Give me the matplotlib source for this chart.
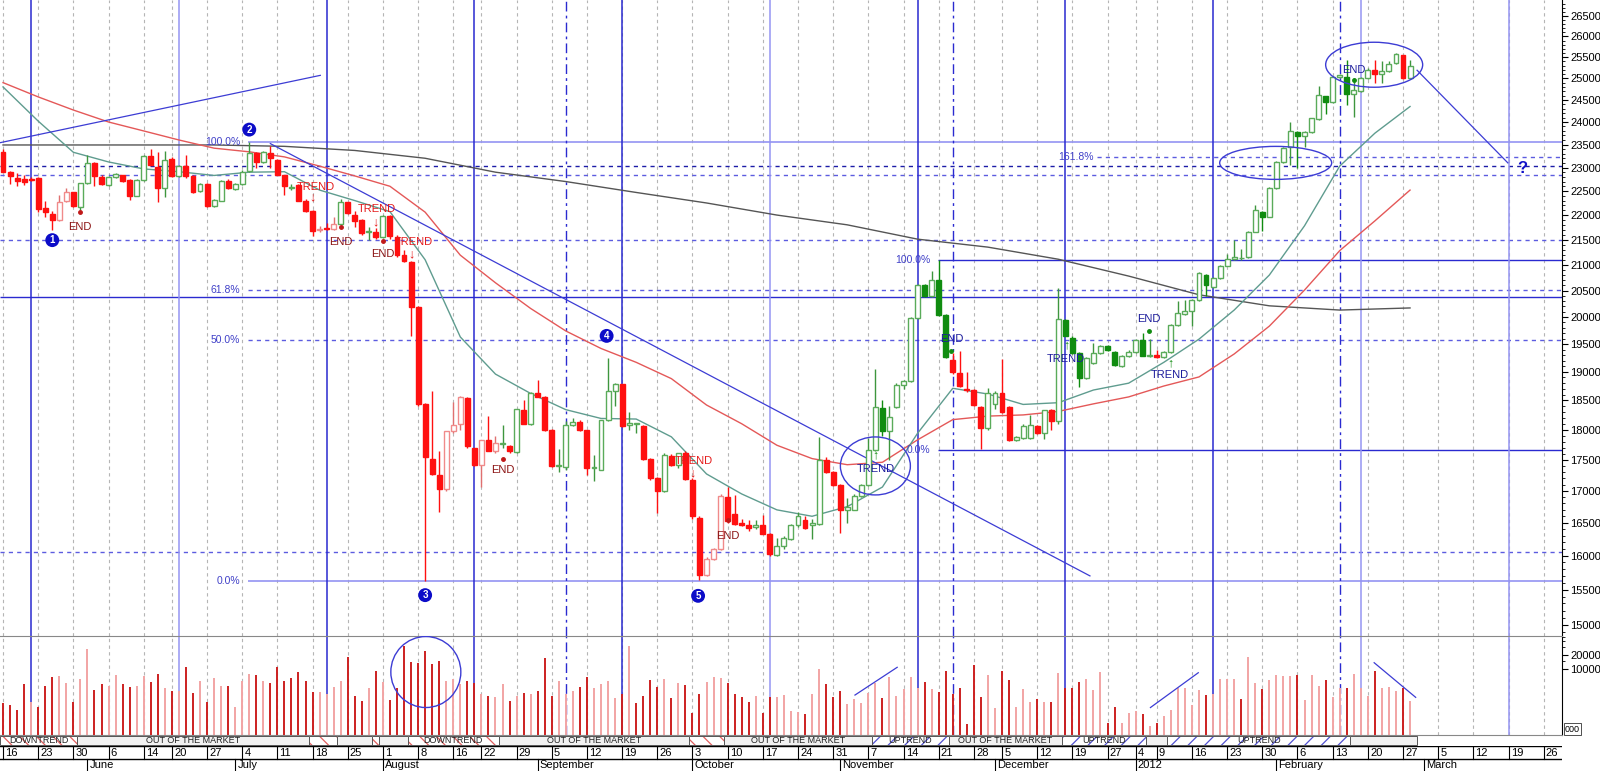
import numpy as np
import pandas as pd
import matplotlib
matplotlib.use("Agg")
import matplotlib.pyplot as plt
from matplotlib.patches import Rectangle, Ellipse
from matplotlib.ticker import FixedLocator, FixedFormatter, NullFormatter

plt.rcParams['font.family'] = ['Liberation Sans', 'DejaVu Sans']
plt.rcParams['hatch.linewidth'] = 0.9

# trading calendar (exchange closed on these days)
holidays = pd.to_datetime(['2011-06-13', '2011-08-15', '2011-12-01',
                           '2011-12-26', '2012-01-02', '2012-01-03'])
days = pd.bdate_range('2011-05-16', '2012-03-30')
days = days[~days.isin(holidays)]

# daily candles, 16 May 2011 .. 28 Feb 2012
opens = [23330, 22900, 22780, 22750, 22760, 22780, 22150, 22030, 21890, 22300,
         22470, 22160, 22660, 23090, 22790, 22630, 22790, 22830, 22740, 22400,
         22730, 23240, 23020, 22560, 23190, 22810, 23040, 22810, 22500, 22640,
         22180, 22300, 22720, 22540, 22640, 22920, 23320, 23110, 23320, 23170,
         22830, 22570, 22630, 22300, 22080, 21700, 21730, 21720, 21820, 22260,
         22010, 21890, 21660, 21650, 21560, 21980, 21560, 21190, 21050, 20180,
         18430, 17510, 17250, 17030, 17970, 18090, 18540, 17690, 17410, 17820,
         17640, 17760, 17720, 17630, 18340, 18090, 18620, 18560, 18000, 17400,
         17390, 18080, 18130, 17990, 17370, 17340, 18160, 18660, 18780, 18080,
         18100, 18060, 17520, 17200, 16990, 17560, 17410, 17620, 17180, 16580,
         15720, 15950, 16100, 16900, 16630, 16500, 16460, 16430, 16470, 16330,
         16010, 16140, 16250, 16460, 16540, 16470, 16480, 17500, 17300, 17090,
         16700, 16700, 16920, 17090, 17660, 18370, 17970, 18380, 18770, 18830,
         19980, 20610, 20390, 20710, 20040, 19220, 18980, 18700, 18680, 18390,
         18020, 18440, 18620, 18390, 17830, 17860, 17860, 18060, 17940, 18330,
         18140, 19950, 19620, 19340, 18890, 19160, 19340, 19470, 19360, 19100,
         19290, 19360, 19580, 19280, 19300, 19270, 19360, 19850, 20060, 20110,
         20320, 20800, 20570, 20740, 20980, 21110, 21130, 21150, 21660, 22070,
         21960, 22560, 23120, 23440, 23770, 23690, 23770, 24060, 24580, 24450,
         25020, 25040, 24640, 24700, 25000, 25190, 25100, 25180, 25350, 25550,
         25000]
highs = [23400, 22930, 22880, 22830, 22790, 22800, 22290, 22080, 22420, 22560,
         22480, 22680, 23280, 23120, 22830, 22810, 22880, 22850, 22760, 22760,
         23270, 23400, 23330, 23350, 23220, 23060, 23260, 22830, 22670, 22660,
         22330, 22730, 22760, 22660, 22950, 23550, 23340, 23360, 23470, 23190,
         22850, 22640, 22650, 22330, 22100, 21780, 21830, 21950, 22340, 22280,
         22080, 21920, 21750, 21740, 22000, 22000, 21600, 21290, 21080, 20200,
         18450, 18660, 17650, 17980, 18470, 18570, 18560, 17700, 17830, 18240,
         17900, 18080, 17750, 18360, 18500, 18650, 18860, 18580, 18010, 17680,
         18150, 18200, 18160, 18000, 17580, 18170, 19240, 18800, 18790, 18300,
         18120, 18080, 17530, 17220, 17620, 17600, 17620, 17640, 17200, 16600,
         15980, 16120, 16950, 17060, 16930, 16560, 16540, 16540, 16620, 16340,
         16260, 16300, 16480, 16660, 16600, 16560, 17880, 17550, 17320, 17110,
         16880, 16950, 17110, 17860, 19050, 18500, 18400, 18800, 18850, 20000,
         20620, 20620, 20870, 21100, 20060, 19330, 19380, 19000, 18700, 18410,
         18710, 18660, 19230, 18410, 17900, 18100, 18250, 18080, 18340, 18350,
         20550, 19960, 19640, 19360, 19260, 19520, 19490, 19490, 19380, 19310,
         19390, 19600, 19700, 19600, 19400, 19380, 19870, 20300, 20320, 20340,
         20860, 20820, 20760, 21000, 21210, 21500, 21320, 21680, 22200, 22090,
         22580, 23140, 23440, 23990, 23800, 23790, 24100, 24830, 24600, 25050,
         25100, 25440, 25000, 25020, 25240, 25430, 25410, 25420, 25600, 25560,
         25440]
lows = [22900, 22650, 22600, 22620, 22720, 22060, 21950, 21700, 21880, 22280,
        22170, 22100, 22640, 22600, 22620, 22610, 22770, 22700, 22310, 22390,
        22720, 23050, 22270, 22380, 22800, 22790, 22780, 22450, 22480, 22170,
        22170, 22290, 22540, 22530, 22630, 22900, 23000, 23100, 23000, 22830,
        22410, 22520, 22290, 22060, 21580, 21650, 21700, 21700, 21800, 22030,
        21760, 21600, 21500, 21520, 21540, 21520, 21150, 21060, 19650, 18400,
        15620, 17250, 16670, 17000, 17950, 18000, 17700, 17400, 17060, 17640,
        17620, 17700, 17620, 17620, 18090, 18080, 18550, 17980, 17390, 17300,
        17330, 18070, 17980, 17250, 17150, 17330, 18150, 18400, 18050, 18000,
        17950, 17500, 17180, 16650, 16980, 17400, 17370, 17180, 16560, 15640,
        15700, 15930, 16090, 16500, 16460, 16450, 16380, 16400, 16320, 15990,
        15990, 16100, 16240, 16440, 16400, 16250, 16470, 17280, 17080, 16340,
        16500, 16690, 16900, 17080, 17650, 17900, 17500, 18370, 18700, 18820,
        19970, 20370, 20380, 20020, 19240, 18970, 18730, 18650, 18400, 17680,
        18000, 18350, 18280, 17810, 17810, 17850, 17850, 17920, 17840, 18000,
        18100, 19640, 19320, 18730, 18870, 19140, 19320, 19370, 19100, 19080,
        19270, 19340, 19280, 19260, 19250, 19250, 19340, 19840, 20040, 19830,
        20310, 20400, 20550, 20720, 20970, 21100, 21100, 21140, 21650, 21670,
        21950, 22550, 23100, 23050, 23000, 23450, 23750, 24040, 24180, 24430,
        25000, 24380, 24110, 24680, 24990, 24900, 24880, 25150, 25330, 24980,
        24980]
closes = [22910, 22820, 22710, 22700, 22740, 22130, 22070, 21890, 22280, 22470,
          22190, 22660, 23090, 22810, 22640, 22790, 22860, 22720, 22390, 22730,
          23240, 23060, 22560, 23170, 22810, 23040, 22810, 22490, 22650, 22180,
          22310, 22720, 22560, 22640, 22900, 23320, 23110, 23340, 23200, 22850,
          22600, 22590, 22300, 22080, 21680, 21720, 21720, 21810, 22280, 22050,
          21870, 21640, 21680, 21560, 21980, 21570, 21190, 21080, 20180, 18430,
          17540, 17270, 17030, 17970, 18080, 18560, 17720, 17410, 17820, 17650,
          17770, 17780, 17640, 18350, 18100, 18620, 18560, 18000, 17400, 17420,
          18080, 18130, 17990, 17360, 17380, 18160, 18670, 18780, 18070, 18120,
          18110, 17520, 17200, 16990, 17580, 17410, 17610, 17190, 16600, 15720,
          15950, 16100, 16920, 16520, 16480, 16470, 16420, 16470, 16330, 16020,
          16140, 16260, 16470, 16600, 16420, 16490, 17500, 17300, 17090, 16700,
          16740, 16920, 17090, 17660, 18390, 17970, 18220, 18770, 18830, 19980,
          20610, 20390, 20710, 20040, 19260, 18990, 18750, 18680, 18420, 18020,
          18620, 18620, 18300, 17830, 17870, 18060, 18080, 17940, 18330, 18140,
          19960, 19650, 19340, 18890, 19240, 19340, 19470, 19390, 19120, 19290,
          19360, 19580, 19290, 19300, 19270, 19360, 19850, 20070, 20110, 20320,
          20840, 20610, 20740, 20980, 21110, 21150, 21140, 21660, 22100, 21970,
          22560, 23120, 23420, 23790, 23690, 23770, 24080, 24610, 24450, 25020,
          25070, 24640, 24720, 25000, 25190, 25100, 25170, 25330, 25570, 25000,
          25300]
volumes = [1860, 1710, 1330, 4830, 2000, 1570, 4370, 6930, 7180, 5160,
           2010, 6280, 27300, 3530, 4830, 4370, 7420, 4830, 4170, 4370,
           7300, 5420, 8040, 3960, 3470, 3500, 11380, 3090, 5600, 1950,
           6500, 4370, 4370, 1520, 5690, 7800, 7540, 5690, 5160, 11000,
           5600, 6500, 8880, 5690, 3250, 3250, 3000, 4170, 5600, 18600,
           2630, 2110, 3960, 9190, 5420, 2220, 4000, 32200, 14600, 13450,
           24700, 13000, 15100, 5600, 6100, 4830, 5600, 5000, 2900, 2670,
           2500, 4830, 2050, 2670, 3050, 2900, 3370, 17800, 2670, 5600,
           3000, 3370, 4230, 6730, 4000, 4830, 5600, 2380, 3000, 32200,
           1860, 2700, 5970, 4170, 6280, 2380, 5070, 4600, 1130, 2950,
           5330, 6830, 6500, 5160, 2950, 2580, 2010, 2670, 1130, 2500,
           2500, 2800, 1270, 1210, 1110, 2950, 10000, 4830, 2500, 3470,
           1800, 2260, 1920, 3130, 5070, 2380, 6730, 2630, 3770, 6730,
           4000, 5330, 3770, 3190, 9190, 3000, 3960, 660, 12370, 2580,
           7420, 1450, 9190, 5800, 1520, 3770, 2010, 2300, 1950, 2010,
           8340, 4000, 3960, 5330, 6190, 3590, 8750, 690, 1550, 710,
           1130, 1250, 1090, 600, 690, 990, 1330, 3900, 4020, 1710,
           3590, 2800, 3000, 6100, 6100, 6100, 2300, 18600, 5160, 3720,
           5970, 7540, 7180, 7180, 7540, 2200, 7660, 4370, 5800, 2580,
           4000, 4020, 7900, 4000, 2670, 9190, 3960, 4230, 3410, 3960,
           2110]

# moving averages
ma_fast_idx = list(range(0, 201, 5))
ma_fast = [24800, 24020, 23330, 23120, 22970, 22910, 22830, 22900, 22910, 22520,
           22300, 22070, 21100, 19630, 18960, 18620, 18340, 18190, 18180, 17880,
           17270, 16950, 16700, 16600, 16750, 17060, 17940, 18710, 18610, 18430,
           18460, 18680, 18800, 19170, 19590, 20130, 20800, 21780, 23030, 23750,
           24350]
ma_mid_idx = list(range(0, 201, 5))
ma_mid = [24900, 24570, 24270, 24000, 23800, 23600, 23420, 23340, 23230, 23030,
          22820, 22600, 22060, 21190, 20650, 20160, 19740, 19420, 19170, 18880,
          18420, 18100, 17740, 17520, 17420, 17460, 17830, 18170, 18230, 18250,
          18310, 18440, 18560, 18750, 18910, 19320, 19830, 20510, 21280, 21880,
          22520]
ma_long_idx = list(range(0, 201, 10))
ma_long = [23490, 23490, 23490, 23490, 23460, 23370, 23200, 22900, 22700, 22470,
           22250, 22000, 21800, 21510, 21350, 21110, 20780, 20420, 20210, 20130,
           20170]

# trend state band
band_start = [-0.43, 10.5, 43.5, 47.5, 52.5, 53.5, 57.5, 70.5, 97.5, 102.5,
              123.5, 134.5, 150.5, 162.5, 165.5, 191.5]
band_end = [10.5, 43.5, 47.5, 52.5, 53.5, 57.5, 70.5, 97.5, 102.5, 123.5,
            134.5, 150.5, 162.5, 165.5, 191.5, 201]
band_kind = ['down', 'out', 'down', 'out', 'down', 'out', 'down', 'out', 'down', 'out',
             'up', 'out', 'up', 'out', 'up', 'out']
band_text = ['DOWNTREND', 'OUT OF THE MARKET', '', '', '', '', 'DOWNTREND',
             'OUT OF THE MARKET', '', 'OUT OF THE MARKET', 'UPTREND',
             'OUT OF THE MARKET', 'UPTREND', '', 'UPTREND', '']

# drawn analysis: levels, cycle lines, trend lines, labels
levels = [23560, 23230, 23030, 22830, 21500, 21100, 20520, 20370, 19580, 17660, 16060, 15620]
level_from = [34.8, 155.5, -0.5, -0.5, -0.5, 132.9, 34.8, -0.5, 34.8, 132.9, -0.5, 34.8]
level_style = ['light', 'dash', 'darkdash', 'dash', 'dash', 'solid', 'dash', 'solid',
               'dash', 'solid', 'dash', 'light']
fib_labels = ['100.0%', '61.8%', '50.0%', '0.0%', '100.0%', '0.0%', '161.8%']
fib_price = [23560, 20520, 19580, 15620, 21100, 17660, 23230]
fib_at = [33.7, 33.7, 33.7, 33.7, 131.8, 131.8, 155.0]
cycle_lines = [4, 25, 46, 67, 88, 109, 130, 151, 172, 193, 214]
cycle_light = [25, 109, 193, 214]
dashdot_lines = [80, 135, 190]
trend_lines = [([-0.43, 45.1], [23540, 25070]),
               ([38.0, 154.5], [23520, 15700]),
               ([201.0, 213.9], [25190, 23100])]
vol_lines = [([121.1, 127.1], [2800, 11050]),
             ([163.1, 169.9], [1510, 8450]),
             ([194.9, 200.8], [13870, 2500])]
wave_idx = [7, 35, 60, 85.8, 98.8]
wave_price = [21490, 23830, 15420, 19650, 15410]
wave_text = ['1', '2', '3', '4', '5']
sig_text = ['END', 'TREND', 'END', 'TREND', 'END', 'TREND', 'END', 'TREND', 'END',
            'TREND', 'END', 'TREND', 'END', 'TREND', 'END']
sig_idx = [10.9, 44.4, 48, 53.2, 54, 58.4, 71, 98.2, 103, 124, 134.8, 151, 162.8, 165.8, 192]
sig_price = [21750, 22580, 21450, 22120, 21210, 21450, 17330, 17480, 16300,
             17350, 19590, 19230, 19960, 18950, 25200]
mark_idx = [10.9, 44.0, 48, 53, 54, 58.1, 71, 98, 103, 124, 134.8, 151.1, 162.9, 165.9, 192]
mark_price = [22070, 22360, 21750, 21860, 21480, 21210, 17520, 17280, 16540,
              17580, 19370, 19480, 19740, 19160, 24970]
mark_kind = ['rdot', 'down', 'rdot', 'down', 'rdot', 'down', 'rdot', 'down', 'rdot',
             'up', 'gdot', 'up', 'gdot', 'up', 'gdot']

W, H = 1600, 771
fig = plt.figure(figsize=(W / 100, H / 100), dpi=100)


def box(x0, y0, x1, y1):
    return [x0 / W, 1 - y1 / H, (x1 - x0) / W, (y1 - y0) / H]


ax = fig.add_axes(box(0, 0, 1562, 636))
vax = fig.add_axes(box(0, 636, 1562, 735))
bax = fig.add_axes(box(0, 735, 1562, 746))
dax = fig.add_axes(box(0, 746, 1562, 771))
XL = (-0.43, 221.6)
n = len(closes)
xs = np.arange(n)

ax.set_yscale('log')
ax.set_ylim(14842, 26900)
vax.set_yscale('log')
vax.set_ylim(388, 52000)
for a in (ax, vax, bax, dax):
    a.set_xlim(*XL)

BLUE = '#2a2ad0'
LIGHT = '#9494f2'
DASH = '#5c5ce0'

# weekly grid
pos = pd.Series(np.arange(len(days)), index=days)
week_first = pos.groupby(days.to_period('W')).first()
month_first = pos.groupby(days.to_period('M')).first()
for k in week_first.values:
    for a in (ax, vax):
        a.axvline(k, color='#b5b5b5', lw=0.8, ls=(0, (3, 3)), zorder=0)

# levels
for p, x0, st in zip(levels, level_from, level_style):
    if st == 'light':
        kw = dict(color=LIGHT, lw=1.2, ls='-')
    elif st == 'solid':
        kw = dict(color=BLUE, lw=1.0, ls='-')
    elif st == 'darkdash':
        kw = dict(color='#1c1ca8', lw=1.0, ls=(0, (3, 3)))
    else:
        kw = dict(color=DASH, lw=1.0, ls=(0, (3, 3)))
    ax.hlines(p, x0, XL[1], zorder=1, **kw)
for s, p, x in zip(fib_labels, fib_price, fib_at):
    ax.text(x, p, s, color='#4040c8', fontsize=7.5, ha='right', va='center', zorder=5)

# cycle lines
for k in cycle_lines:
    c = LIGHT if k in cycle_light else BLUE
    for a in (ax, vax):
        a.axvline(k, color=c, lw=1.1, zorder=1)
for k in dashdot_lines:
    for a in (ax, vax):
        a.axvline(k, color=BLUE, lw=1.0, ls=(0, (7, 3, 2, 3)), zorder=1)

# moving averages
ax.plot(ma_long_idx, ma_long, color='#555555', lw=1.0, zorder=2)
ax.plot(ma_mid_idx, ma_mid, color='#e45858', lw=1.0, zorder=2)
ax.plot(ma_fast_idx, ma_fast, color='#5f9c8f', lw=1.0, zorder=2)

# trend lines
for tx, ty in trend_lines:
    ax.plot(tx, ty, color='#3c3cd4', lw=0.9, zorder=2)
for tx, ty in vol_lines:
    vax.plot(tx, ty, color='#3c3cd4', lw=0.9, zorder=3)


def zone_of(i):
    for s, e, kd in zip(band_start, band_end, band_kind):
        if s <= i < e:
            return kd
    return 'out'


# candles
bw = 0.7
for i in range(n):
    o, h, l, c = opens[i], highs[i], lows[i], closes[i]
    z = zone_of(i)
    up = c >= o
    if z == 'down':
        col = '#f08a8a' if up else '#ff1010'
    elif z == 'up':
        col = '#5aab5a' if up else '#108c10'
    else:
        col = '#5aab5a' if up else '#ff1010'
    wick = col if not up else ('#e07070' if z == 'down' else '#3e963e')
    ax.vlines(i, l, h, color=wick, lw=1.0, zorder=3)
    lo, hi = min(o, c), max(o, c)
    if up:
        ax.add_patch(Rectangle((i - bw / 2, lo), bw, hi - lo, fc='white', ec=col,
                               lw=1.0, zorder=4))
    else:
        ax.add_patch(Rectangle((i - bw / 2, lo), bw, hi - lo, fc=col, ec=col,
                               lw=1.0, zorder=4))

# volume
vcols = ['#f2a4a4' if i > 0 and closes[i] >= closes[i - 1] else '#cc2020' for i in range(n)]
vax.vlines(xs, 388, volumes, colors=vcols, lw=1.4, zorder=2)

# wave numbers and signal labels
for i, p, s in zip(wave_idx, wave_price, wave_text):
    ax.text(i, p, s, color='white', fontsize=7, fontweight='bold', ha='center',
            va='center', zorder=7,
            bbox=dict(boxstyle='circle,pad=0.2', fc='#0c0cc8', ec='none'))
ax.text(215.9, 22980, '?', color='#1010c8', fontsize=12, fontweight='bold',
        ha='center', va='center', zorder=7)
for k, (s, i, p) in enumerate(zip(sig_text, sig_idx, sig_price)):
    if k < 9:
        col = '#e41c1c' if s == 'TREND' else '#8c1414'
    else:
        col = '#1c1c9c'
    ax.text(i, p, s, color=col, fontsize=8, ha='center', va='center', zorder=6)
for i, p, kd in zip(mark_idx, mark_price, mark_kind):
    if kd == 'rdot':
        ax.plot(i, p, 'o', ms=2.5, color='#c01818', zorder=6)
    elif kd == 'gdot':
        ax.plot(i, p, 'o', ms=2.5, color='#108c10', zorder=6)
    elif kd == 'down':
        ax.text(i, p, '↓', color='#e41c1c', fontsize=9, fontweight='bold',
                ha='center', va='center', zorder=6)
    else:
        ax.text(i, p, '↑', color='#108c10', fontsize=9, fontweight='bold',
                ha='center', va='center', zorder=6)


# ellipses drawn in pixel size around a data point
def ring(a, i, v, wpx, hpx):
    px, py = a.transData.transform((i, v))
    fx, fy = fig.transFigure.inverted().transform((px, py))
    a.add_patch(Ellipse((fx, fy), wpx / W, hpx / H, transform=fig.transFigure,
                        fill=False, ec='#3c3cd4', lw=1.0, zorder=6))


ring(ax, 124.0, 17400, 70, 58)
ring(ax, 180.9, 23100, 112, 33)
ring(ax, 194.9, 25320, 97, 45)
ring(vax, 60.1, 8750, 70, 71)

# axes styling
for a in (ax, vax):
    for sp in ('left', 'top', 'bottom'):
        a.spines[sp].set_visible(False)
    a.spines['right'].set_color('black')
    a.set_xticks([])
    a.yaxis.tick_right()
    a.tick_params(axis='y', which='major', direction='out', length=4, width=0.8,
                  labelsize=8, pad=2)
    a.tick_params(axis='y', which='minor', direction='out', length=2, width=0.6)
vax.spines['top'].set_visible(True)
vax.spines['top'].set_color('#888888')
vax.spines['bottom'].set_visible(True)
vax.spines['bottom'].set_color('#888888')

pmaj = list(range(15000, 26501, 500))
ax.yaxis.set_major_locator(FixedLocator(pmaj))
ax.yaxis.set_major_formatter(FixedFormatter([str(v) for v in pmaj]))
ax.yaxis.set_minor_locator(FixedLocator([v for v in range(14900, 26900, 100) if v % 500]))
ax.yaxis.set_minor_formatter(NullFormatter())
vax.yaxis.set_major_locator(FixedLocator([10000, 20000]))
vax.yaxis.set_major_formatter(FixedFormatter(['10000', '20000']))
vax.yaxis.set_minor_locator(FixedLocator([15000, 30000, 40000, 50000]))
vax.yaxis.set_minor_formatter(NullFormatter())
fig.text(1565 / W, 1 - 729 / H, '000', fontsize=6.5, va='center', ha='left',
         bbox=dict(boxstyle='square,pad=0.15', fc='white', ec='#333333', lw=0.6))

# band
bax.set_ylim(0, 1)
bax.axis('off')
for s, e, kd, t in zip(band_start, band_end, band_kind, band_text):
    if kd == 'down':
        bax.add_patch(Rectangle((s, 0.05), e - s, 0.9, fc='white', ec='#e06060',
                                hatch='\\\\', lw=0))
    elif kd == 'up':
        bax.add_patch(Rectangle((s, 0.05), e - s, 0.9, fc='white', ec='#5050d0',
                                hatch='//', lw=0))
    else:
        bax.add_patch(Rectangle((s, 0.05), e - s, 0.9, fc='#f1f1f1', ec='none'))
    bax.add_patch(Rectangle((s, 0.05), e - s, 0.9, fill=False, ec='#555555', lw=0.7))
    if t:
        bax.text((s + e) / 2, 0.5, t, fontsize=6.5, color='#222222', ha='center',
                 va='center')

# date rows
dax.set_ylim(0, 1)
dax.axis('off')
dax.axhline(1.0, color='black', lw=1.0)
dax.axhline(0.49, color='black', lw=1.0)
for d, k in zip(week_first.index, week_first.values):
    dax.plot([k, k], [0.49, 1.0], color='black', lw=0.8)
    dax.text(k + 0.3, 0.73, str(days[k].day), fontsize=8, ha='left', va='center')
for d, k in zip(month_first.index, month_first.values):
    if k == 0:
        continue
    dax.plot([k, k], [0.0, 0.49], color='black', lw=0.8)
    name = days[k].strftime('%B') if days[k].month != 1 else str(days[k].year)
    dax.text(k + 0.3, 0.24, name, fontsize=8, ha='left', va='center')

fig.savefig('out.png', dpi=100)
